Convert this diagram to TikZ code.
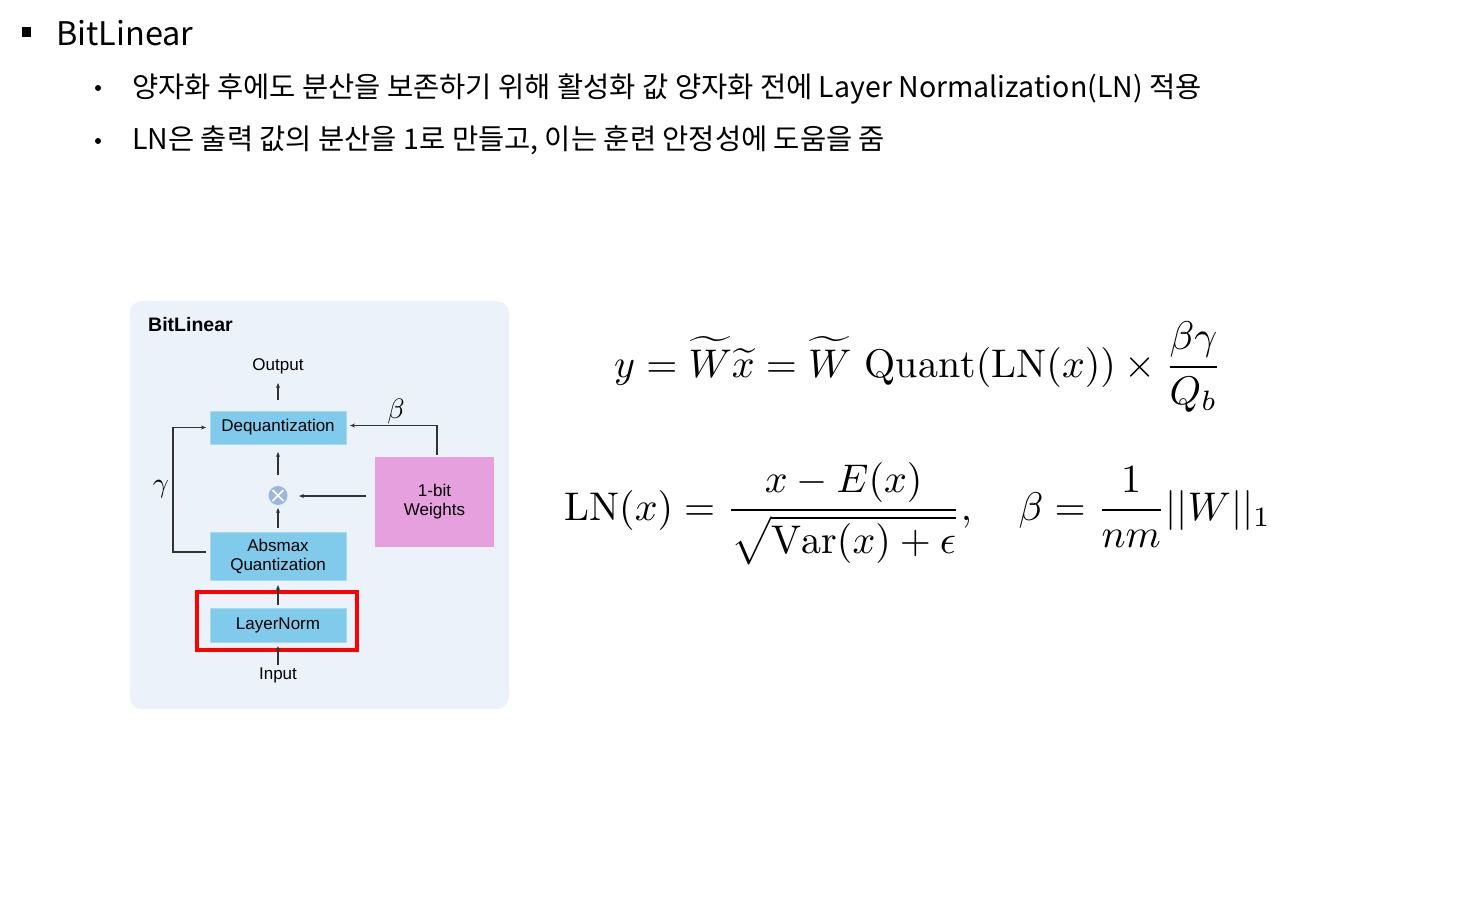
\documentclass[tikz,border=0pt]{standalone}
\usepackage{fontspec}
\usepackage{amsmath}
\usetikzlibrary{arrows.meta,calc}
\newfontfamily\kr{Noto Sans CJK KR}
\newfontfamily\arial{Liberation Sans}
\definecolor{panelbg}{HTML}{EBF2FA}
\definecolor{boxblue}{HTML}{80CAEB}
\definecolor{boxpink}{HTML}{E6A0DE}
\definecolor{circ}{HTML}{9CB5E3}
\definecolor{ink}{HTML}{333333}
\tikzset{
  blk/.style={fill=boxblue, draw=boxblue!70!white, line width=0.8pt, minimum width=136pt, align=center, inner sep=0pt, font=\arial\fontsize{17}{20}\selectfont},
  lbl/.style={inner sep=0pt, font=\arial\fontsize{17}{20}\selectfont},
  conn/.style={draw=ink, line width=1.4pt, -{Stealth[length=5pt,width=4pt]}},
  bul/.style={inner sep=0pt, anchor=west, font=\kr\fontsize{28.5}{34}\selectfont},
  dot/.style={fill, circle, inner sep=0pt, minimum size=6pt},
}
\begin{document}
\begin{tikzpicture}[x=1pt,y=-1pt]
\useasboundingbox (0,0) rectangle (1477,905);
\fill[white] (0,0) rectangle (1477,905);
% heading
\fill (22,27) rectangle (31,37);
\node[inner sep=0pt, anchor=west, font=\kr\fontsize{32.5}{40}\selectfont] (head) at (56,33) {BitLinear};
\node[dot] (d1) at (98,88) {};
\node[bul] (b1) at (132,89) {양자화 후에도 분산을 보존하기 위해 활성화 값 양자화 전에 Layer Normalization(LN) 적용};
\node[dot] (d2) at (98,141) {};
\node[bul] (b2) at (132,140) {LN은 출력 값의 분산을 1로 만들고, 이는 훈련 안정성에 도움을 줌};
% panel
\fill[panelbg, rounded corners=12pt] (130,301) rectangle (509,709);
\node[inner sep=0pt, anchor=west, font=\arial\bfseries\fontsize{19.5}{22}\selectfont] (title) at (148,325) {BitLinear};
\node[lbl] (out) at (278,366) {Output};
\node[blk, minimum height=33pt] (deq) at (278,427.5) {Dequantization};
\node[circle, fill=circ, minimum size=19pt, inner sep=0pt] (mul) at (278,495.5) {};
\draw[white, line width=1.6pt] ($(mul)+(-5.5,-5.5)$) -- ($(mul)+(5.5,5.5)$) ($(mul)+(-5.5,5.5)$) -- ($(mul)+(5.5,-5.5)$);
\node[blk, minimum height=48pt, text width=130pt] (absq) at (278,556) {Absmax\\[-1pt]Quantization};
\node[blk, minimum height=34pt] (ln) at (278,625) {LayerNorm};
\node[lbl] (inp) at (278,675) {Input};
\node[fill=boxpink, minimum width=119pt, minimum height=90pt, align=center, inner sep=0pt, font=\arial\fontsize{17}{20}\selectfont] (wt) at (434.5,502) {1-bit\\[-1pt]Weights};
\node[draw=red, line width=3.6pt, minimum width=160pt, minimum height=58pt, inner sep=0pt] (hl) at (277,621) {};
% connectors
\coordinate (o1) at (278,400);
\coordinate (o2) at (278,383);
\draw[conn] (o1) -- (o2);
\draw[conn] (278,475) -- (278,452);
\draw[conn] (278,528) -- (278,508);
\draw[conn] (278,605) -- (278,585);
\draw[conn] (278,665) -- (278,646);
\draw[conn] (366,496) -- (299,496);
\draw[conn] (437,455) -- (437,425.5) -- (350,425.5);
\draw[conn] (206,552) -- (173,552) -- (173,427.5) -- (206,427.5);
\node[inner sep=0pt] (beta) at (396,411) {\scalebox{2.8}{$\beta$}};
\node[inner sep=0pt] (gam) at (161,489) {\scalebox{2.8}{$\gamma$}};
% equations
\node[inner sep=0pt, anchor=base west] (eq1) at (614,377) {\scalebox{4.0}{$\displaystyle y=\widetilde{W}\widetilde{x}=\widetilde{W}\ \mathrm{Quant}(\mathrm{LN}(x))\times\frac{\beta\gamma}{Q_b}$}};
\node[inner sep=0pt, anchor=base west] (eq2) at (564,520) {\scalebox{4.0}{$\displaystyle \mathrm{LN}(x)=\frac{x-E(x)}{\sqrt{\mathrm{Var}(x)+\epsilon}},\quad \beta=\frac{1}{nm}||W||_1$}};
\end{tikzpicture}
\end{document}
